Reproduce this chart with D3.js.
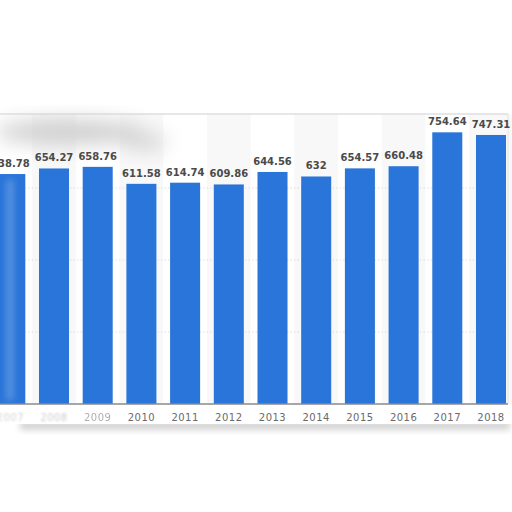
<!DOCTYPE html>
<html><head><meta charset="utf-8">
<script src="https://cdn.jsdelivr.net/npm/d3@7/dist/d3.min.js"></script>
<style>html,body{margin:0;padding:0;background:#fff;}svg{display:block;}</style>
</head><body>
<script>
const years = ["2007","2008","2009","2010","2011","2012","2013","2014","2015","2016","2017","2018"];
const values = [638.78,654.27,658.76,611.58,614.74,609.86,644.56,632,654.57,660.48,754.64,747.31];
const yTicks = [200,400,600,800];

const W = 512, H = 512;
const svg = d3.select("body").append("svg").attr("width", W).attr("height", H);
const defs = svg.append("defs");
defs.append("filter").attr("id","blur8").attr("x","-50%").attr("y","-50%").attr("width","200%").attr("height","200%")
  .append("feGaussianBlur").attr("stdDeviation",10);
defs.append("filter").attr("id","blur3").attr("x","-50%").attr("y","-50%").attr("width","200%").attr("height","200%")
  .append("feGaussianBlur").attr("stdDeviation",3);
defs.append("filter").attr("id","blur1").attr("x","-50%").attr("y","-50%").attr("width","200%").attr("height","200%")
  .append("feGaussianBlur").attr("stdDeviation",1.2);

const x = d3.scaleBand().domain(years).range([-11.55, 512.85]).paddingInner(0.313).paddingOuter(0.1565);
const y = d3.scaleLinear().domain([0, 800]).range([404, 116]);
const step = x.step();

// bottom shadow
svg.append("rect").attr("x", 20).attr("y", 421).attr("width", 490).attr("height", 9)
  .attr("fill", "#c4c4c4").attr("filter", "url(#blur3)").attr("opacity", 0.75);
svg.append("rect").attr("x", -10).attr("y", 404).attr("width", 522).attr("height", 20).attr("fill", "#fff");

// panel
svg.append("rect").attr("x", 0).attr("y", 114).attr("width", 508).attr("height", 290).attr("fill", "#fff");
// alternating bands
svg.append("g").selectAll("rect").data(years.filter((d,i)=>i%2===1)).join("rect")
  .attr("x", d => x(d) + x.bandwidth()/2 - step/2).attr("y", 114)
  .attr("width", step).attr("height", 290).attr("fill", "#f8f8f8");

// top blur smudge (blurred title)
const sm = svg.append("g").attr("filter","url(#blur8)");
sm.append("ellipse").attr("cx", 70).attr("cy", 132).attr("rx", 75).attr("ry", 12).attr("fill", "#cdcdcd");
sm.append("ellipse").attr("cx", 145).attr("cy", 142).attr("rx", 22).attr("ry", 8).attr("fill", "#d4d4d4");
svg.append("line").attr("x1",0).attr("x2",508).attr("y1",114).attr("y2",114).attr("stroke","#cfcfcf").attr("stroke-width",1.2);
svg.append("line").attr("x1",508).attr("x2",508).attr("y1",114).attr("y2",404).attr("stroke","#e4e4e4").attr("stroke-width",1);

// gridlines
svg.append("g").selectAll("line").data(yTicks.slice(0,3)).join("line")
  .attr("x1", 0).attr("x2", 508).attr("y1", d => y(d)).attr("y2", d => y(d))
  .attr("stroke", "#d6d6d6").attr("stroke-dasharray", "1.5,2").attr("stroke-width", 0.8);

// bars
svg.append("g").selectAll("rect").data(values).join("rect")
  .attr("x", (d,i) => x(years[i])).attr("y", d => y(d))
  .attr("width", x.bandwidth()).attr("height", d => y(0) - y(d))
  .attr("fill", "#2a75d9");

// left white fade over the first bar
svg.append("rect").attr("x", 6).attr("y", 180).attr("width", 8).attr("height", 220)
  .attr("fill", "#ffffff").attr("opacity", 0.2).attr("filter","url(#blur3)");

// value labels
svg.append("g").selectAll("text").data(values).join("text")
  .attr("x", (d,i) => x(years[i]) + x.bandwidth()/2).attr("y", d => y(d) - 7)
  .attr("text-anchor", "middle").attr("font-family", "DejaVu Sans, sans-serif")
  .attr("font-size", 10).attr("font-weight", "bold").attr("fill", "#4a4a4a")
  .text(d => String(d));

// baseline
svg.append("line").attr("x1",0).attr("x2",508).attr("y1",404).attr("y2",404).attr("stroke","#8a8a8a").attr("stroke-width",1.5);

// x axis labels
const xAxis = d3.axisBottom(x).tickSize(0).tickPadding(10);
const gx = svg.append("g").attr("transform","translate(0,404)").call(xAxis);
gx.select(".domain").remove();
gx.selectAll("text").attr("font-family","DejaVu Sans, sans-serif").attr("font-size",10)
  .attr("fill","#6a6a6a").attr("letter-spacing","0.5")
  .attr("opacity",(d,i)=> i===0?0.3:(i===1?0.35:(i===2?0.55:1)))
  .attr("filter",(d,i)=> i<2?"url(#blur1)":null);
</script>
</body></html>
